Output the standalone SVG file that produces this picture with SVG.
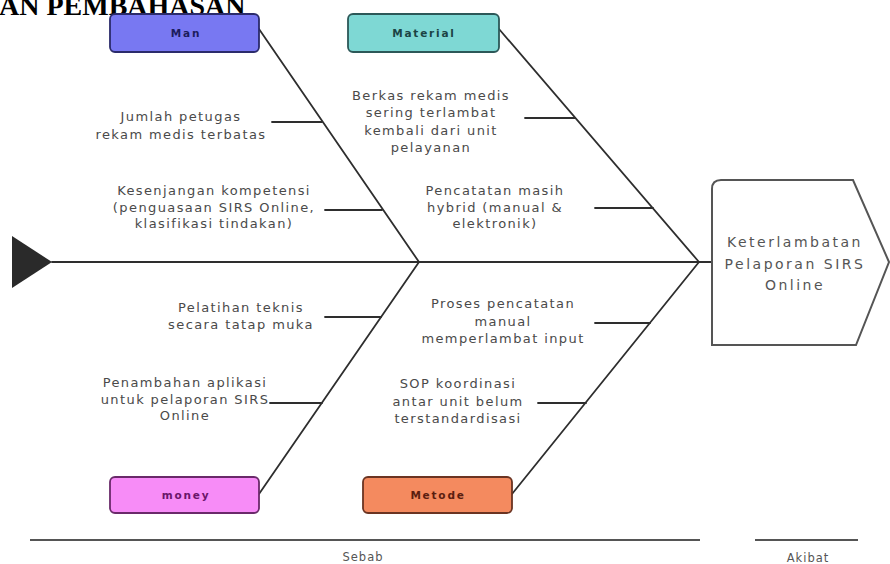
<svg xmlns="http://www.w3.org/2000/svg" width="890" height="564" viewBox="0 0 890 564">
<style>
.ln{stroke:#2e2e2e;stroke-width:1.8;fill:none;stroke-linecap:round}
.cause{font-family:"DejaVu Sans",sans-serif;font-size:13px;letter-spacing:1.4px;fill:#4a4a4a;text-anchor:middle}
.box{stroke-width:1.8}
.blab{font-family:"DejaVu Sans",sans-serif;font-size:10.5px;font-weight:bold;letter-spacing:1.8px;text-anchor:middle}
.eff{font-family:"DejaVu Sans",sans-serif;font-size:14px;letter-spacing:2.5px;fill:#555;text-anchor:middle}
.foot{font-family:"DejaVu Sans",sans-serif;font-size:11.5px;letter-spacing:1px;fill:#555;text-anchor:middle}
</style>
<rect width="890" height="564" fill="#ffffff"/>
<text x="-1" y="15" font-family="Liberation Serif, serif" font-weight="bold" font-size="28" fill="#000">AN PEMBAHASAN</text>

<g id="connectors">
<polygon points="12,236 52,262 12,288" fill="#2a2a2a"/>
<line class="ln" x1="52" y1="262" x2="712" y2="262"/>
<line class="ln" x1="259" y1="29" x2="419" y2="262"/>
<line class="ln" x1="499" y1="29" x2="699" y2="262"/>
<line class="ln" x1="259" y1="494" x2="419" y2="262"/>
<line class="ln" x1="512" y1="494" x2="699" y2="262"/>
<line class="ln" x1="272" y1="122" x2="322" y2="122"/>
<line class="ln" x1="325" y1="210" x2="382" y2="210"/>
<line class="ln" x1="525" y1="118" x2="575" y2="118"/>
<line class="ln" x1="595" y1="208" x2="653" y2="208"/>
<line class="ln" x1="325" y1="317" x2="381" y2="317"/>
<line class="ln" x1="270" y1="403" x2="322" y2="403"/>
<line class="ln" x1="595" y1="323" x2="650" y2="323"/>
<line class="ln" x1="538" y1="403" x2="586" y2="403"/>
<line x1="30" y1="540" x2="700" y2="540" stroke="#555" stroke-width="2"/>
<line x1="755" y1="540" x2="858" y2="540" stroke="#555" stroke-width="2"/>
</g>

<g id="man">
<rect class="box" x="110" y="14" width="149" height="38" rx="5" fill="#7878F2" stroke="#2b2b6b"/>
<text class="blab" x="186" y="37" fill="#1c1c5c">Man</text>
</g>
<g id="material">
<rect class="box" x="348" y="14" width="151" height="38" rx="5" fill="#7ED8D4" stroke="#2c5858"/>
<text class="blab" x="424" y="37" fill="#1b4444">Material</text>
</g>
<g id="money">
<rect class="box" x="110" y="477" width="149" height="36" rx="5" fill="#F78CF7" stroke="#6a2a6a"/>
<text class="blab" x="186" y="499" fill="#6a156a">money</text>
</g>
<g id="metode">
<rect class="box" x="363" y="477" width="149" height="36" rx="5" fill="#F48A5F" stroke="#6b3422"/>
<text class="blab" x="438" y="499" fill="#5a1e10">Metode</text>
</g>

<g id="cause-jumlah">
<text class="cause" x="181" y="121">Jumlah petugas</text>
<text class="cause" x="181" y="139">rekam medis terbatas</text>
</g>
<g id="cause-kesenjangan">
<text class="cause" x="214" y="195">Kesenjangan kompetensi</text>
<text class="cause" x="214" y="211.5">(penguasaan SIRS Online,</text>
<text class="cause" x="214" y="228">klasifikasi tindakan)</text>
</g>
<g id="cause-berkas">
<text class="cause" x="431" y="100">Berkas rekam medis</text>
<text class="cause" x="431" y="117">sering terlambat</text>
<text class="cause" x="431" y="134.5">kembali dari unit</text>
<text class="cause" x="431" y="152">pelayanan</text>
</g>
<g id="cause-pencatatan">
<text class="cause" x="495" y="195">Pencatatan masih</text>
<text class="cause" x="495" y="211.5">hybrid (manual &amp;</text>
<text class="cause" x="495" y="228">elektronik)</text>
</g>
<g id="cause-pelatihan">
<text class="cause" x="241" y="312">Pelatihan teknis</text>
<text class="cause" x="241" y="329">secara tatap muka</text>
</g>
<g id="cause-penambahan">
<text class="cause" x="185" y="387">Penambahan aplikasi</text>
<text class="cause" x="185" y="403.5">untuk pelaporan SIRS</text>
<text class="cause" x="185" y="420">Online</text>
</g>
<g id="cause-proses">
<text class="cause" x="503" y="308">Proses pencatatan</text>
<text class="cause" x="503" y="325.5">manual</text>
<text class="cause" x="503" y="343">memperlambat input</text>
</g>
<g id="cause-sop">
<text class="cause" x="458" y="388">SOP koordinasi</text>
<text class="cause" x="458" y="405.5">antar unit belum</text>
<text class="cause" x="458" y="423">terstandardisasi</text>
</g>

<g id="effect">
<path d="M712 345 L712 189 Q712 180 721 180 L853 180 L889 262 L856 345 Z" fill="#fff" stroke="#555" stroke-width="2"/>
<text class="eff" x="795" y="247">Keterlambatan</text>
<text class="eff" x="795" y="269">Pelaporan SIRS</text>
<text class="eff" x="795" y="290">Online</text>
</g>

<g id="labels">
<text class="foot" x="363" y="561">Sebab</text>
<text class="foot" x="808" y="562">Akibat</text>
</g>
</svg>
